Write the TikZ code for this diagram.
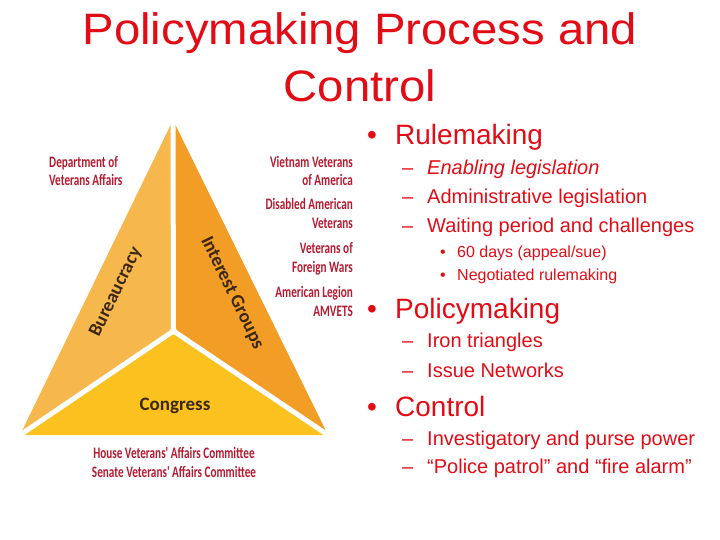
\documentclass[tikz,border=0pt]{standalone}
\usepackage{fontspec}
\setmainfont{Liberation Sans}
\newfontfamily\titlefont[FakeStretch=1.075]{Liberation Sans}
\newfontfamily\labfont[FakeStretch=0.70]{Carlito}
\newfontfamily\trifont{Carlito}
\definecolor{titlered}{RGB}{226,12,22}
\definecolor{labred}{RGB}{182,26,48}
\definecolor{leftor}{RGB}{246,184,76}
\definecolor{rightor}{RGB}{241,157,38}
\definecolor{botyel}{RGB}{251,193,30}
\definecolor{tribrown}{RGB}{60,40,20}
\begin{document}
\begin{tikzpicture}[x=1pt,y=-1pt,
  title/.style={text=titlered,font=\titlefont\fontsize{44}{48}\selectfont,inner sep=0pt,anchor=base},
  lvone/.style={text=titlered,font=\fontsize{28}{32}\selectfont,inner sep=0pt,anchor=base west},
  lvtwo/.style={text=titlered,font=\fontsize{20}{24}\selectfont,inner sep=0pt,anchor=base west},
  lvthree/.style={text=titlered,font=\fontsize{16}{19}\selectfont,inner sep=0pt,anchor=base west},
  lab/.style={text=labred,font=\labfont\bfseries\fontsize{16}{18}\selectfont,inner sep=0pt},
  trilab/.style={text=tribrown,font=\trifont\bfseries\fontsize{19}{22}\selectfont,inner sep=0pt},
  gap/.style={white,line width=5pt}]
\useasboundingbox (0,0) rectangle (720,540);
% title
\node[title] (t1) at (360,45) {Policymaking Process and};
\node[title] (t2) at (360,102) {Control};
% triangle
\coordinate (T) at (173,120);
\coordinate (L) at (20,435);
\coordinate (R) at (328,435);
\coordinate (C) at (173.5,331);
\fill[leftor] (T) -- (L) -- (C) -- cycle;
\fill[rightor] (T) -- (C) -- (R) -- cycle;
\fill[botyel] (L) -- (R) -- (C) -- cycle;
\draw[gap] (C) -- (T);
\draw[gap] (C) -- (L);
\draw[gap] (C) -- (R);
\fill[white] (C) circle (3.5pt);
\node[trilab,rotate=64] (bur) at (116,292) {Bureaucracy};
\node[trilab,rotate=-64] (ig) at (232,293) {Interest Groups};
\node[trilab,anchor=base] (cong) at (175,410) {Congress};
% labels
\node[lab,anchor=base west] (dva1) at (49,168) {Department of};
\node[lab,anchor=base west] (dva2) at (49,186) {Veterans Affairs};
\node[lab,anchor=base east] (r1) at (353,168) {Vietnam Veterans};
\node[lab,anchor=base east] (r2) at (353,186) {of America};
\node[lab,anchor=base east] (r3) at (353,210) {Disabled American};
\node[lab,anchor=base east] (r4) at (353,229) {Veterans};
\node[lab,anchor=base east] (r5) at (353,253) {Veterans of};
\node[lab,anchor=base east] (r6) at (353,272) {Foreign Wars};
\node[lab,anchor=base east] (r7) at (353,297) {American Legion};
\node[lab,anchor=base east] (r8) at (353,316) {AMVETS};
\node[lab,anchor=base] (h1) at (174,458) {House Veterans' Affairs Committee};
\node[lab,anchor=base] (h2) at (174,477) {Senate Veterans' Affairs Committee};
% bullets
\node[lvone] (b1) at (367,145) {•};
\node[lvone] (b1t) at (395,145) {Rulemaking};
\node[lvtwo] (d1) at (402,175) {–};
\node[lvtwo] (d1t) at (427,175) {\itshape Enabling legislation};
\node[lvtwo] (d2) at (402,204) {–};
\node[lvtwo] (d2t) at (427,204) {Administrative legislation};
\node[lvtwo] (d3) at (402,233) {–};
\node[lvtwo] (d3t) at (427,233) {Waiting period and challenges};
\node[lvthree] (s1) at (440,257) {•};
\node[lvthree] (s1t) at (457,257) {60 days (appeal/sue)};
\node[lvthree] (s2) at (440,280) {•};
\node[lvthree] (s2t) at (457,280) {Negotiated rulemaking};
\node[lvone] (b2) at (367,318) {•};
\node[lvone] (b2t) at (395,318) {Policymaking};
\node[lvtwo] (d4) at (402,347) {–};
\node[lvtwo] (d4t) at (427,347) {Iron triangles};
\node[lvtwo] (d5) at (402,377) {–};
\node[lvtwo] (d5t) at (427,377) {Issue Networks};
\node[lvone] (b3) at (367,416) {•};
\node[lvone] (b3t) at (395,416) {Control};
\node[lvtwo] (d6) at (402,445) {–};
\node[lvtwo] (d6t) at (427,445) {Investigatory and purse power};
\node[lvtwo] (d7) at (402,473) {–};
\node[lvtwo] (d7t) at (427,473) {“Police patrol” and “fire alarm”};
\end{tikzpicture}
\end{document}
